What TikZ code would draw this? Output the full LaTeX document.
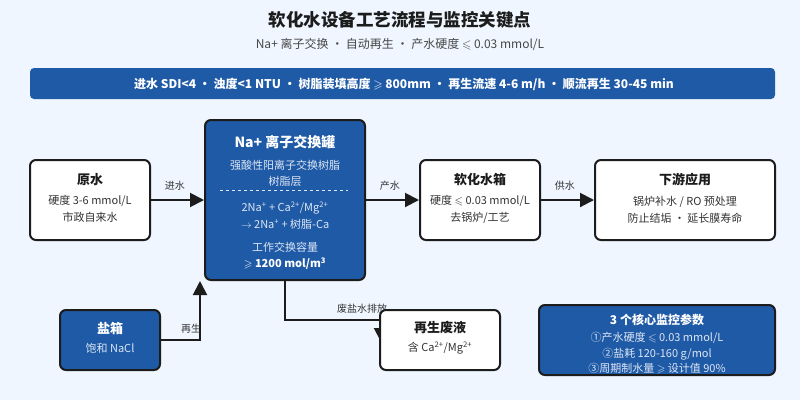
\documentclass[tikz,border=0pt]{standalone}
\usepackage{fontspec}
\usepackage{amssymb}
\setmainfont{Noto Sans CJK SC}
\usetikzlibrary{arrows.meta, positioning, calc}
\definecolor{bg}{HTML}{EFF6FF}
\definecolor{tankblue}{HTML}{1F5AA6}
\definecolor{ink}{HTML}{1C1C1C}
\definecolor{txt}{HTML}{333333}
\definecolor{pale}{HTML}{DCE6F5}
\newcommand{\fs}[2]{\fontsize{#1}{#2}\selectfont}
\tikzset{flow/.style={-{Triangle[length=14pt,width=14pt]}, line width=2pt, draw=ink}}
\tikzset{box/.style={draw=ink, line width=2pt, rounded corners=6pt, fill=white}}
\tikzset{bluebox/.style={box, fill=tankblue}}
\tikzset{lbl/.style={font=\fs{10}{12}, text=txt}}
\tikzset{head/.style={font=\bfseries\fs{13}{15}, text=ink, inner sep=0pt}}
\tikzset{body/.style={font=\fs{11}{17}, text=txt, align=center, inner sep=0pt}}

\begin{document}
\begin{tikzpicture}[x=1pt, y=-1pt]
  \fill[bg] (0,0) rectangle (800,400);
  \useasboundingbox (0,0) rectangle (800,400);
  % title
  \node[font=\bfseries\fs{17.5}{19}, text=ink] (title) at (400,20) {软化水设备工艺流程与监控关键点};
  \node[font=\fs{12}{14}, text=txt!90] (subtitle) at (400,44) {Na+ 离子交换 · 自动再生 · 产水硬度 $\leqslant$ 0.03 mmol/L};
  \fill[tankblue, rounded corners=4pt] (30,68) rectangle (775,99);
  \node[font=\bfseries\fs{12}{14}, text=white] (banner) at (404,84)
    {进水 SDI<4 · 浊度<1 NTU · 树脂装填高度 $\geqslant$ 800mm · 再生流速 4-6 m/h · 顺流再生 30-45 min};

  % boxes
  \node[box, minimum width=120, minimum height=80] (raw) at (90,200) {};
  \node[bluebox, minimum width=160, minimum height=160] (tank) at (285,200) {};
  \node[box, minimum width=120, minimum height=80] (soft) at (480,200) {};
  \node[box, minimum width=180, minimum height=80] (use) at (685,200) {};
  \node[bluebox, minimum width=100, minimum height=60] (salt) at (110,340) {};
  \coordinate (regen) at (200,281);
  \coordinate (drain) at (381,342);

  % flows
  \draw[flow] (raw) -- node[lbl, above=5pt, pos=0.45] {进水} (tank);
  \draw[flow] (tank) -- node[lbl, above=5pt, pos=0.45] {产水} (soft);
  \draw[flow] (soft) -- node[lbl, above=5pt, pos=0.45] {供水} (use);
  \draw[flow] (salt.east) -| (regen);
  \node[lbl] (regen-lbl) at (191,329) {再生};
  \draw[flow] (tank.south) |- (381,320) -- (drain);
  \node[lbl] (drain-lbl) at (362,309) {废盐水排放};

  \node[box, minimum width=120, minimum height=60] (waste) at (440,340) {};
  \node[bluebox, minimum width=236, minimum height=70] (mon) at (657,340) {};

  % texts
  \node[head] (raw-h) at (90,180) {原水};
  \node[body] (raw-b) at (90,208.5) {硬度 3-6 mmol/L\\市政自来水};

  \node[head, text=white, font=\bfseries\fs{14}{16}] (tank-h) at (285,142) {Na+ 离子交换罐};
  \node[body, text=pale, font=\fs{11}{16}] (tank-a) at (285,173) {强酸性阳离子交换树脂\\树脂层};
  \draw[pale, line width=1pt, dash pattern=on 3pt off 3pt] (220,190) -- (348,190);
  \node[body, text=pale] (tank-b) at (285,215.5)
    {2Na\textsuperscript{+} + Ca\textsuperscript{2+}/Mg\textsuperscript{2+}\\$\rightarrow$ 2Na\textsuperscript{+} + 树脂-Ca};
  \node[body, text=pale] (tank-c) at (285,247) {工作交换容量};
  \node[body, text=white, font=\bfseries\fs{11}{17}] (tank-d) at (285,264) {$\geqslant$ 1200 mol/m\textsuperscript{3}};

  \node[head] (soft-h) at (480,180) {软化水箱};
  \node[body] (soft-b) at (480,209.5) {硬度 $\leqslant$ 0.03 mmol/L\\去锅炉/工艺};

  \node[head] (use-h) at (685,180) {下游应用};
  \node[body] (use-b) at (685,209.5) {锅炉补水 / RO 预处理\\防止结垢 · 延长膜寿命};

  \node[head, text=white] (salt-h) at (110,328) {盐箱};
  \node[body, text=pale] (salt-b) at (110,348) {饱和 NaCl};

  \node[head] (waste-h) at (440,328) {再生废液};
  \node[body] (waste-b) at (440,348) {含 Ca\textsuperscript{2+}/Mg\textsuperscript{2+}};

  \node[head, text=white, font=\bfseries\fs{12}{14}] (mon-h) at (657,320) {3 个核心监控参数};
  \node[body, text=pale, font=\fs{11}{15.5}] (mon-b) at (657,353.5)
    {①产水硬度 $\leqslant$ 0.03 mmol/L\\②盐耗 120-160 g/mol\\③周期制水量 $\geqslant$ 设计值 90\%};
\end{tikzpicture}
\end{document}
